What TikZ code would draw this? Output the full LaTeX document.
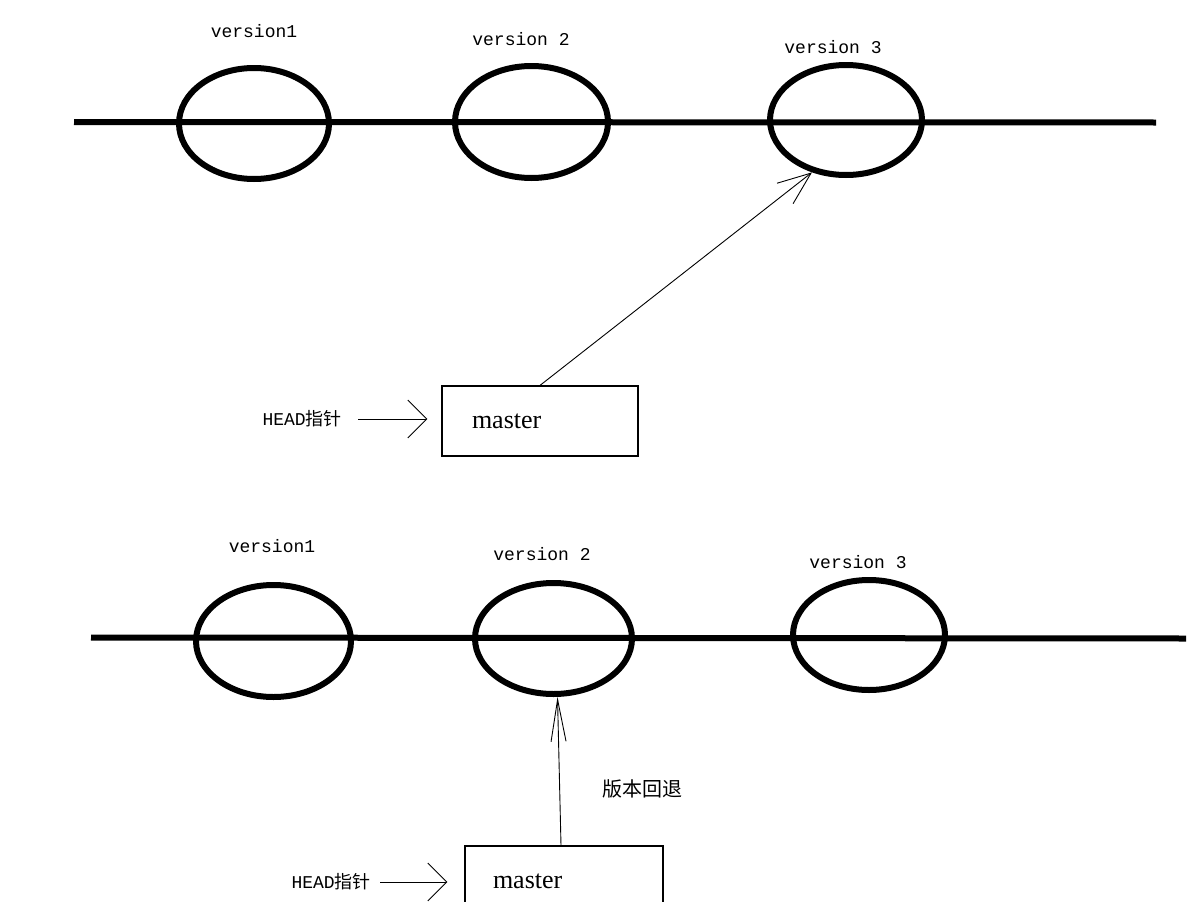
\documentclass[tikz,border=0pt]{standalone}
\usepackage{fontspec}
\setmainfont{Liberation Serif}
\newfontfamily\monof{Liberation Mono}
\newfontfamily\cjk{Noto Sans CJK SC}
\usetikzlibrary{shapes.geometric,arrows.meta}
\tikzset{
  ver/.style={ellipse,draw,line width=6pt,inner sep=0pt},
  timeline/.style={line width=6pt},
  vlabel/.style={font=\monof\fontsize{18}{20}\selectfont,inner sep=0pt},
  box/.style={draw,line width=1.2pt,minimum height=70pt,text width=136pt,inner xsep=30pt,align=left,
    font=\fontsize{26}{28}\selectfont},
  headlabel/.style={font=\fontsize{18}{20}\selectfont,inner sep=0pt},
  harr/.style={line width=0.9pt,-{Straight Barb[length=19pt,width=38pt]}},
  parr/.style={line width=0.9pt,-{Straight Barb[length=33pt,width=26pt]}},
  varr/.style={line width=0.9pt,-{Straight Barb[length=42pt,width=15pt]}},
}
\begin{document}
\begin{tikzpicture}[x=1pt,y=-1pt]
\clip (0,0) rectangle (1192,902);
\fill[white] (0,0) rectangle (1192,902);
% ---------- top diagram ----------
\coordinate (tl1) at (74,122);
\coordinate (tl2) at (1156,122.5);
\draw[timeline] (tl1) -- (tl2);
\node[ver,minimum width=150pt,minimum height=111pt] (v1a) at (254,123.5) {};
\node[ver,minimum width=153pt,minimum height=112pt] (v2a) at (531.5,122) {};
\node[ver,minimum width=152pt,minimum height=110pt] (v3a) at (846,120) {};
\node[vlabel] (l1a) at (254,31) {version1};
\node[vlabel] (l2a) at (521,39) {version 2};
\node[vlabel] (l3a) at (833,47) {version 3};
\node[box] (m1) at (540,421) {master};
\node[headlabel,anchor=east] (h1) at (342,419) {\monof HEAD{\cjk 指针}};
\draw[harr,shorten <=16pt,shorten >=14pt] (h1.east) -- (h1.east -| m1.west);
\draw[parr] (m1.north) -- (v3a.-123);
% ---------- bottom diagram ----------
\coordinate (bl1) at (91,637.5);
\coordinate (bl2) at (1186,638.5);
\draw[timeline] (bl1) -- (bl2);
\node[ver,minimum width=155pt,minimum height=112pt] (v1b) at (273.5,641) {};
\node[ver,minimum width=157pt,minimum height=111pt] (v2b) at (553.5,638.5) {};
\node[ver,minimum width=152pt,minimum height=110pt] (v3b) at (869,635) {};
\node[vlabel] (l1b) at (272,546) {version1};
\node[vlabel] (l2b) at (542,554) {version 2};
\node[vlabel] (l3b) at (858,562) {version 3};
\node[box,inner xsep=28pt,text width=142pt] (m2) at (564,881) {master};
\node[headlabel,anchor=east] (h2) at (371,882) {\monof HEAD{\cjk 指针}};
\draw[harr,shorten <=9pt,shorten >=17pt] (h2.east) -- (h2.east -| m2.west);
\draw[varr] ([xshift=-3pt]m2.north) -- ([xshift=4pt]v2b.south);
\node[font=\cjk\fontsize{20}{22}\selectfont,inner sep=0pt] (rb) at (642,789) {版本回退};
\end{tikzpicture}
\end{document}
